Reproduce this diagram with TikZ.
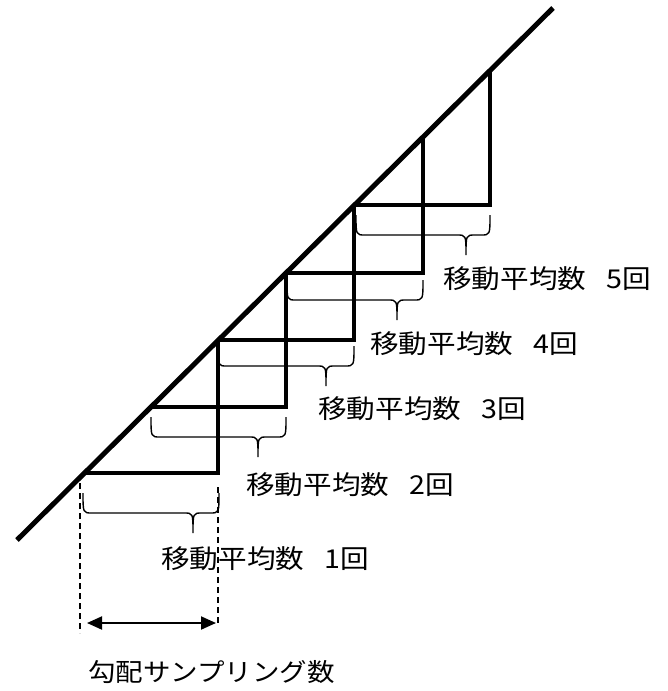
\documentclass[tikz,border=0pt]{standalone}
\usepackage{fontspec}
\setmainfont{Noto Sans CJK JP}[FakeStretch=1.1]
\usetikzlibrary{arrows.meta}
\newcommand\curlybrace[4]{% #1 left x, #2 right x, #3 top y, #4 tip x
  \draw[bracepath] (#1,#3) .. controls (#1,#3+20) and (#1,#3+20) .. (#1+9,#3+20)
    -- (#4-9,#3+20) .. controls (#4,#3+20) and (#4,#3+20) .. (#4,#3+40)
    .. controls (#4,#3+20) and (#4,#3+20) .. (#4+9,#3+20)
    -- (#2-9,#3+20) .. controls (#2,#3+20) and (#2,#3+20) .. (#2,#3);}
\begin{document}
\begin{tikzpicture}[x=1pt,y=-1pt,
  diag/.style={line width=5pt},
  stepline/.style={line width=4pt, line join=miter},
  bracepath/.style={line width=1.4pt},
  guide/.style={line width=1.3pt, dash pattern=on 6pt off 4pt},
  dimarrow/.style={line width=2pt, {Triangle[length=15pt,width=13pt]}-{Triangle[length=15pt,width=13pt]}},
  lbl/.style={anchor=west, inner sep=0pt, font=\fontsize{26}{30}\selectfont}]
\useasboundingbox (0,0) rectangle (667,691);
% main slope
\coordinate (d0) at (17,540);
\coordinate (d1) at (553,8);
\draw[diag] (d0) -- (d1);
% step corners on the slope
\coordinate (P1) at (84,473);
\coordinate (P2) at (151,407);
\coordinate (P3) at (218,340);
\coordinate (P4) at (286,273);
\coordinate (P5) at (354,205);
\coordinate (P6) at (423,137);
\coordinate (P7) at (490,71);
\draw[stepline] (P1) -- (P1 -| P3) -- (P3);
\draw[stepline] (P2) -- (P2 -| P4) -- (P4);
\draw[stepline] (P3) -- (P3 -| P5) -- (P5);
\draw[stepline] (P4) -- (P4 -| P6) -- (P6);
\draw[stepline] (P5) -- (P5 -| P7) -- (P7);
% braces
\curlybrace{83}{219}{493}{193}
\curlybrace{151}{286}{417}{258}
\curlybrace{218}{354}{346}{326}
\curlybrace{287}{423}{280}{397}
\curlybrace{356}{490}{215}{466}
% labels
\node[lbl] (m1) at (161,559) {移動平均数\hspace{20pt}1回};
\node[lbl] (m2) at (246,485) {移動平均数\hspace{20pt}2回};
\node[lbl] (m3) at (318,409) {移動平均数\hspace{20pt}3回};
\node[lbl] (m4) at (370,344) {移動平均数\hspace{20pt}4回};
\node[lbl] (m5) at (443,279) {移動平均数\hspace{20pt}5回};
% sampling width
\coordinate (gl0) at (80,483);
\coordinate (gl1) at (80,633);
\coordinate (gr0) at (218,487);
\coordinate (gr1) at (218,623);
\draw[guide] (gl0) -- (gl1);
\draw[guide] (gr0) -- (gr1);
\coordinate (a0) at (87,623);
\coordinate (a1) at (216,623);
\draw[dimarrow] (a0) -- (a1);
\node[lbl, font=\fontsize{25}{30}\selectfont] (g) at (88,672) {勾配サンプリング数};
\end{tikzpicture}
\end{document}
